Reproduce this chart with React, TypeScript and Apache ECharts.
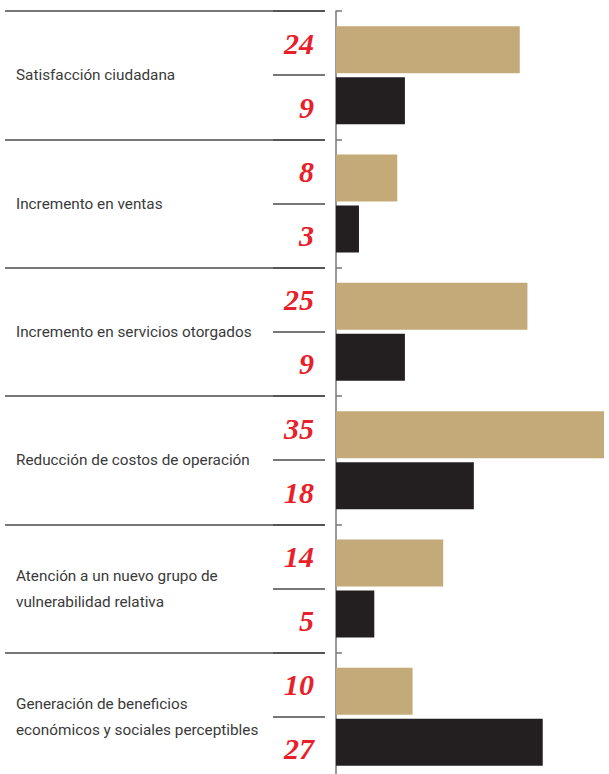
import React, { useEffect, useRef } from "react";
import * as echarts from "echarts";

const categories = [
  "Satisfacción ciudadana",
  "Incremento en ventas",
  "Incremento en servicios otorgados",
  "Reducción de costos de operación",
  "Atención a un nuevo grupo de\nvulnerabilidad relativa",
  "Generación de beneficios\neconómicos y sociales perceptibles",
];
const seriesA = [24, 8, 25, 35, 14, 10];
const seriesB = [9, 3, 9, 18, 5, 27];

const numberLabels: number[] = [];
categories.forEach((_, i) => {
  numberLabels.push(seriesA[i], seriesB[i]);
});

const TOP = 11;
const HEIGHT = 770;

export default function App() {
  const ref = useRef<HTMLDivElement>(null);
  useEffect(() => {
    document.body.style.margin = "0";
    document.body.style.overflow = "hidden";
    const chart = echarts.init(ref.current!, null, { renderer: "svg" });
    const lineColor = "#4a4a4a";
    chart.setOption({
      animation: false,
      backgroundColor: "#ffffff",
      grid: [
        { left: 5, width: 320, top: TOP, height: HEIGHT },
        { left: 273, width: 52, top: TOP, height: HEIGHT },
        { left: 336, width: 268, top: TOP, height: HEIGHT },
      ],
      xAxis: [
        { gridIndex: 0, type: "value", show: false, min: 0, max: 1 },
        { gridIndex: 1, type: "value", show: false, min: 0, max: 1 },
        { gridIndex: 2, type: "value", show: false, min: 0, max: 35 },
      ],
      yAxis: [
        {
          gridIndex: 0,
          type: "category",
          data: categories,
          inverse: true,
          axisLine: { show: false },
          axisTick: { show: false },
          splitLine: { show: true, lineStyle: { color: lineColor, width: 1.5 } },
          axisLabel: {
            align: "left",
            margin: -11,
            fontFamily: "Roboto, sans-serif",
            fontSize: 15.3,
            lineHeight: 26,
            color: "#3a3a3a",
          },
        },
        {
          gridIndex: 1,
          type: "category",
          data: numberLabels.map((_, i) => String(i)),
          inverse: true,
          position: "right",
          axisLine: { show: false },
          axisTick: { show: false },
          splitLine: { show: true, lineStyle: { color: lineColor, width: 1.5 } },
          axisLabel: {
            inside: true,
            margin: 11,
            formatter: (v: string) => String(numberLabels[Number(v)]),
            fontFamily: "'Liberation Serif', 'DejaVu Serif', serif",
            fontStyle: "italic",
            fontWeight: "bold",
            fontSize: 30,
            color: "#e8202a",
            padding: [4, 0, 0, 0],
          },
        },
        {
          gridIndex: 2,
          type: "category",
          data: categories,
          inverse: true,
          axisLine: { show: true, lineStyle: { color: "#777777", width: 1.5 } },
          axisTick: { show: true, inside: true, length: 6, lineStyle: { color: "#777777", width: 1.5 } },
          axisLabel: { show: false },
          splitLine: { show: false },
        },
      ],
      series: [
        {
          type: "bar",
          xAxisIndex: 2,
          yAxisIndex: 2,
          data: seriesA,
          barWidth: 47,
          barGap: "8.5%",
          itemStyle: { color: "#c3aa78" },
        },
        {
          type: "bar",
          xAxisIndex: 2,
          yAxisIndex: 2,
          data: seriesB,
          barWidth: 47,
          barGap: "8.5%",
          itemStyle: { color: "#231f20" },
        },
      ],
    });
    return () => chart.dispose();
  }, []);
  return (
    <div style={{ width: 609, height: 774, overflow: "hidden" }}>
      <div ref={ref} style={{ width: 609, height: 790 }} />
    </div>
  );
}
